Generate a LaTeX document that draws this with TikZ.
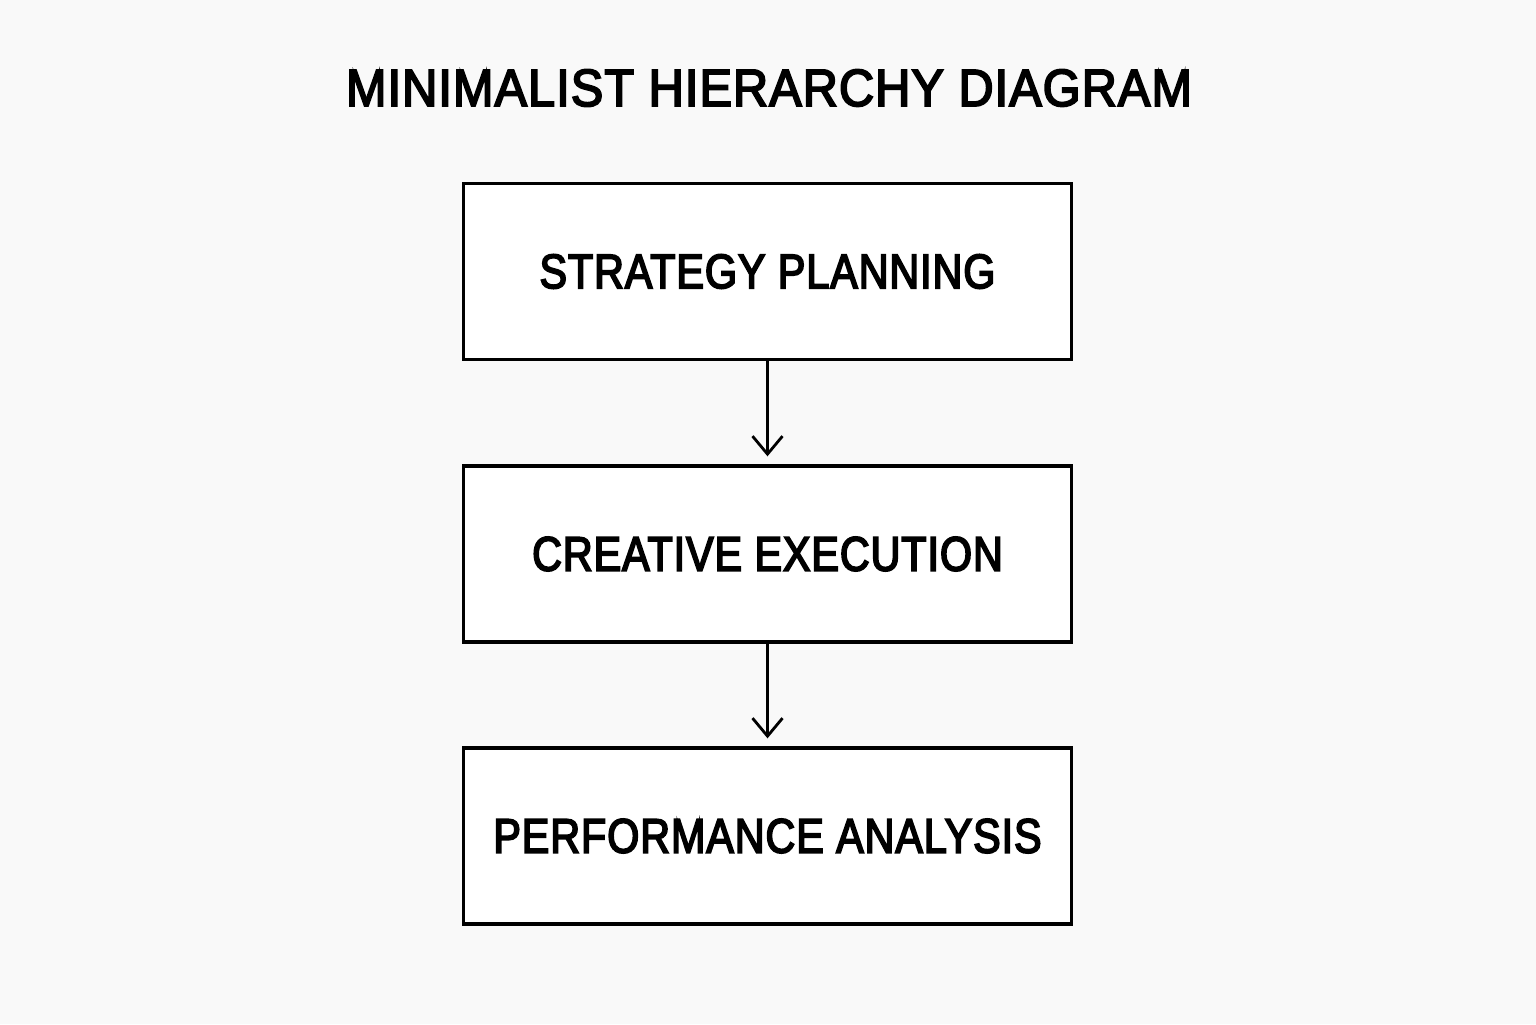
\documentclass[tikz,border=0pt]{standalone}
\usepackage{fontspec}
\setmainfont{Liberation Sans}[FakeBold=3.5, FakeStretch=0.85, LetterSpace=2]
\newfontfamily\titlefont{Liberation Sans}[FakeBold=3.5, FakeStretch=0.93, LetterSpace=2]
\usetikzlibrary{arrows.meta}
\definecolor{pagebg}{HTML}{F9F9F9}
\tikzset{
    levelbox/.style={shape=rectangle, draw=black, fill=white, line width=0.95pt,
        minimum width=6.08cm, minimum height=1.76cm, inner sep=0pt,
        font=\fontsize{13.8pt}{17pt}\selectfont},
    down/.style={-{Straight Barb[length=0.18cm, width=0.3cm, line width=0.8pt]},
        line width=0.8pt, shorten >=0.08cm}
}
\begin{document}
\begin{tikzpicture}
        \fill[pagebg] (0,0) rectangle (15.36,10.24);
        \useasboundingbox (0,0) rectangle (15.36,10.24);

            \node[font=\titlefont\fontsize{14.9pt}{18pt}\selectfont] (T) at (7.69,9.36) {MINIMALIST HIERARCHY DIAGRAM};

            \node[levelbox] (B1) at (7.675,7.525) {STRATEGY PLANNING};
            \node[levelbox] (B2) at (7.675,4.70) {CREATIVE EXECUTION};
            \node[levelbox] (B3) at (7.675,1.88) {PERFORMANCE ANALYSIS};

            \path[down](B1) edge (B2);
            \path[down](B2) edge (B3);
        \end{tikzpicture}
\end{document}
